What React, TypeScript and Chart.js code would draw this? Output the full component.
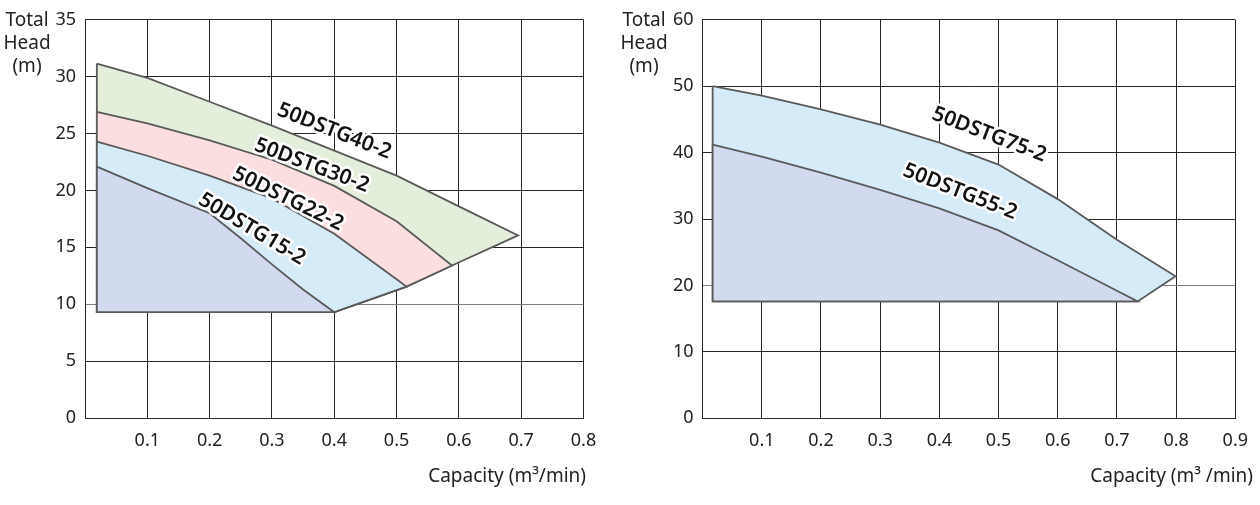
import React, { useEffect, useRef } from "react";
import { Chart, registerables } from "chart.js";

Chart.register(...registerables);

// ---------- Left chart data (Capacity m³/min vs Total Head m) ----------
const leftCapacity15 = [0.019, 0.1, 0.2, 0.25, 0.3, 0.35, 0.4];
const leftHead15 = [22.1, 20.2, 18.0, 15.8, 13.5, 11.3, 9.3];
const leftCapacity22 = [0.019, 0.1, 0.2, 0.3, 0.4, 0.5, 0.516];
const leftHead22 = [24.3, 23.05, 21.3, 19.3, 16.2, 12.2, 11.55];
const leftCapacity30 = [0.019, 0.1, 0.2, 0.3, 0.4, 0.5, 0.589];
const leftHead30 = [26.9, 25.9, 24.4, 22.7, 20.4, 17.3, 13.4];
const leftCapacity40 = [0.019, 0.1, 0.2, 0.3, 0.4, 0.5, 0.6, 0.695];
const leftHead40 = [31.15, 29.9, 27.8, 25.7, 23.5, 21.3, 18.6, 16.05];
const leftMinHead = 9.3;
const leftModels = ["50DSTG15-2", "50DSTG22-2", "50DSTG30-2", "50DSTG40-2"];

// ---------- Right chart data ----------
const rightCapacity55 = [0.017, 0.1, 0.2, 0.3, 0.4, 0.5, 0.6, 0.7, 0.735];
const rightHead55 = [41.2, 39.4, 37.0, 34.4, 31.6, 28.3, 23.8, 19.2, 17.6];
const rightCapacity75 = [0.017, 0.1, 0.2, 0.3, 0.4, 0.5, 0.6, 0.7, 0.799];
const rightHead75 = [50.0, 48.6, 46.5, 44.2, 41.5, 38.2, 33.0, 26.9, 21.4];
const rightMinHead = 17.6;
const rightModels = ["50DSTG55-2", "50DSTG75-2"];

// axis ranges
const leftXMax = 0.8;
const leftYMax = 35;
const leftYStep = 5;
const rightXMax = 0.9;
const rightYMax = 60;
const rightYStep = 10;
const xStep = 0.1;

const yAxisTitle = ["Total", "Head", "(m)"];
const leftXAxisTitle = "Capacity (m³/min)";
const rightXAxisTitle = "Capacity (m³ /min)";

// ---------- styles ----------
const FONT = '"Noto Sans", sans-serif';
const H = 505;
const leftColors = ["#d2daf0", "#d5ebf8", "#fbdfe0", "#e3eedb"];
const rightColors = ["#d2daf0", "#d5ebf8"];
const curveStroke = "#5a5a5a";
const gridColor = "#262626";
const gridGray = "#808080";

// label anchors (in data units) and rotation
const leftLabelPlacement = [
  { x: 0.268, y: 16.6, angle: 31 },
  { x: 0.326, y: 19.25, angle: 26 },
  { x: 0.364, y: 22.2, angle: 20.5 },
  { x: 0.4, y: 25.2, angle: 21.5 },
];
const rightLabelPlacement = [
  { x: 0.435, y: 34.1, angle: 21.5 },
  { x: 0.484, y: 42.7, angle: 21 },
];

type Curve = { x: number[]; y: number[] };

function regionPoints(curves: Curve[], idx: number, minHead: number) {
  const c = curves[idx];
  const pts = c.x.map((x, i) => ({ x, y: c.y[i] }));
  for (let j = idx - 1; j >= 0; j--) {
    const lc = curves[j];
    pts.push({ x: lc.x[lc.x.length - 1], y: lc.y[lc.y.length - 1] });
  }
  pts.push({ x: c.x[0], y: minHead });
  pts.push({ ...pts[0] });
  return pts;
}

type Props = {
  canvasLeft: number;
  width: number;
  area: { left: number; right: number; top: number; bottom: number };
  curves: Curve[];
  colors: string[];
  minHead: number;
  models: string[];
  placement: { x: number; y: number; angle: number }[];
  xMax: number;
  yMax: number;
  yStep: number;
  grayValue: number;
  xTitle: string;
  xTitleRight: number;
  yTitleCenter: number;
};

function PumpChart(p: Props) {
  const ref = useRef<HTMLCanvasElement>(null);
  useEffect(() => {
    const canvas = ref.current!;
    const datasets = p.curves.map((_, i) => ({
      label: p.models[i],
      data: regionPoints(p.curves, i, p.minHead),
      fill: "shape" as const,
      backgroundColor: p.colors[i],
      borderColor: curveStroke,
      borderWidth: 1.8,
      pointRadius: 0,
      tension: 0,
    }));

    const textPlugin = {
      id: "pumpTexts",
      afterDraw(chart: any) {
        const { ctx, scales } = chart;
        ctx.save();
        // curve labels
        ctx.font = `600 21px ${FONT}`;
        ctx.textAlign = "center";
        ctx.textBaseline = "middle";
        ctx.lineJoin = "round";
        p.placement.forEach((l, i) => {
          const px = scales.x.getPixelForValue(l.x);
          const py = scales.y.getPixelForValue(l.y);
          ctx.save();
          ctx.translate(px, py);
          ctx.rotate((l.angle * Math.PI) / 180);
          ctx.lineWidth = 5;
          ctx.strokeStyle = "#ffffff";
          ctx.strokeText(p.models[i], 0, 0);
          ctx.fillStyle = "#111111";
          ctx.fillText(p.models[i], 0, 0);
          ctx.restore();
        });
        // y axis title
        ctx.font = `19px ${FONT}`;
        ctx.fillStyle = "#222222";
        ctx.textAlign = "center";
        ctx.textBaseline = "alphabetic";
        yAxisTitle.forEach((t, i) => {
          ctx.fillText(t, p.yTitleCenter, 26 + i * 23);
        });
        // x axis title
        ctx.textAlign = "right";
        ctx.fillText(p.xTitle, p.xTitleRight, 482);
        ctx.restore();
      },
    };

    const chart = new Chart(canvas, {
      type: "line",
      data: { datasets: datasets as any },
      options: {
        animation: false,
        responsive: false,
        events: [],
        layout: {
          padding: { top: p.area.top, right: p.width - p.area.right, left: 0, bottom: 0 },
        },
        plugins: { legend: { display: false }, tooltip: { enabled: false } },
        scales: {
          x: {
            type: "linear",
            min: 0,
            max: p.xMax,
            z: 1,
            afterFit: (s: any) => {
              s.height = H - p.area.bottom;
            },
            ticks: {
              stepSize: xStep,
              autoSkip: false,
              maxRotation: 0,
              padding: 12,
              color: "#222222",
              font: { family: FONT, size: 18 },
              callback: (v: any) => (Number(v) === 0 ? "" : Number(v).toFixed(1)),
            },
            grid: { color: gridColor, lineWidth: 1, drawTicks: false },
            border: { color: gridColor, width: 1 },
          },
          y: {
            type: "linear",
            min: 0,
            max: p.yMax,
            z: 1,
            afterFit: (s: any) => {
              s.width = p.area.left;
            },
            ticks: {
              stepSize: p.yStep,
              padding: 9,
              color: "#222222",
              font: { family: FONT, size: 18 },
            },
            grid: {
              color: (c: any) => (c.tick && c.tick.value === p.grayValue ? gridGray : gridColor),
              lineWidth: 1,
              drawTicks: false,
            },
            border: { color: gridColor, width: 1 },
          },
        },
      },
      plugins: [textPlugin],
    });
    return () => chart.destroy();
  }, []);
  return (
    <canvas
      ref={ref}
      width={p.width}
      height={H}
      style={{ position: "absolute", left: p.canvasLeft, top: 0, width: p.width, height: H }}
    />
  );
}

export default function App() {
  const leftCurves: Curve[] = [
    { x: leftCapacity15, y: leftHead15 },
    { x: leftCapacity22, y: leftHead22 },
    { x: leftCapacity30, y: leftHead30 },
    { x: leftCapacity40, y: leftHead40 },
  ];
  const rightCurves: Curve[] = [
    { x: rightCapacity55, y: rightHead55 },
    { x: rightCapacity75, y: rightHead75 },
  ];
  return (
    <div
      style={{
        position: "fixed",
        left: 0,
        top: 0,
        width: 1260,
        height: H,
        background: "#ffffff",
        overflow: "hidden",
      }}
    >
      <PumpChart
        canvasLeft={0}
        width={620}
        area={{ left: 85, right: 583.5, top: 12.7, bottom: 418 }}
        curves={leftCurves}
        colors={leftColors}
        minHead={leftMinHead}
        models={leftModels}
        placement={leftLabelPlacement}
        xMax={leftXMax}
        yMax={leftYMax}
        yStep={leftYStep}
        grayValue={10}
        xTitle={leftXAxisTitle}
        xTitleRight={586}
        yTitleCenter={27}
      />
      <PumpChart
        canvasLeft={620}
        width={640}
        area={{ left: 82.6, right: 628, top: 11.5, bottom: 418.3 }}
        curves={rightCurves}
        colors={rightColors}
        minHead={rightMinHead}
        models={rightModels}
        placement={rightLabelPlacement}
        xMax={rightXMax}
        yMax={rightYMax}
        yStep={rightYStep}
        grayValue={20}
        xTitle={rightXAxisTitle}
        xTitleRight={633}
        yTitleCenter={24}
      />
    </div>
  );
}
